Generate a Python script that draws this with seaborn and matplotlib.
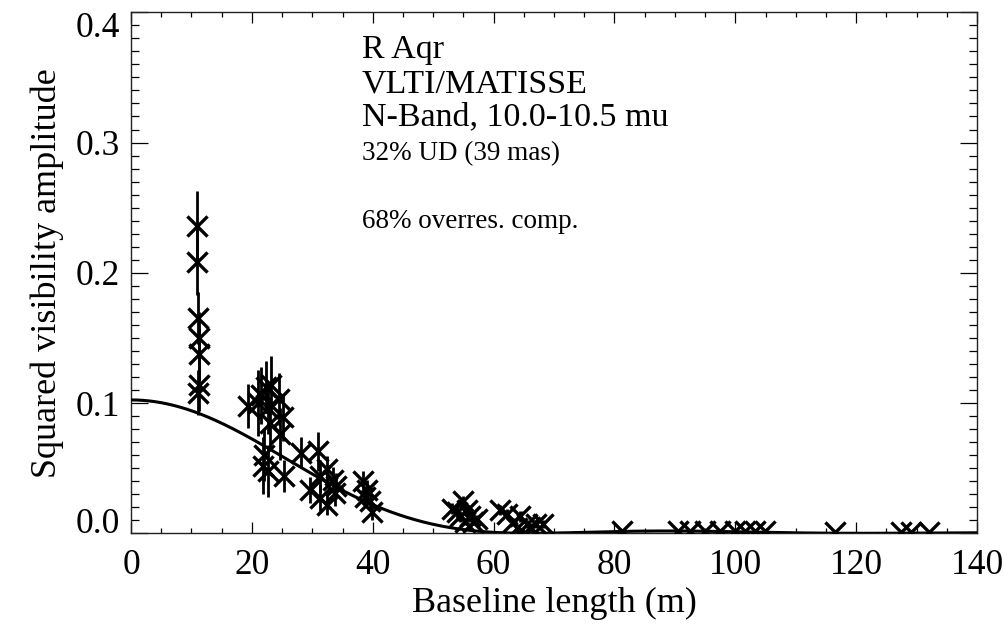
import numpy as np
import pandas as pd
import matplotlib
matplotlib.use("Agg")
import matplotlib.pyplot as plt
from matplotlib.ticker import MultipleLocator, FormatStrFormatter
import seaborn as sns

# Measured squared visibilities (baseline in m, V^2, 1-sigma error)
baseline_m = [
    10.9, 11.0, 11.1, 11.2, 11.2, 11.3, 11.1,
    19.4, 21.0, 21.5, 22.3, 23.2, 22.6, 24.5, 25.2, 24.6, 22.0, 21.8, 22.6, 25.3, 23.0,
    28.2, 31.0, 29.6, 31.3, 32.4, 33.5, 31.3, 32.4, 33.7, 34.0,
    38.4, 39.0, 39.6, 39.8, 38.8,
    53.1, 55.0, 55.6, 54.4, 56.1, 56.6, 55.3, 57.2, 54.0,
    61.1, 62.2, 64.4, 63.2, 65.5, 67.1, 68.2, 66.0, 63.8,
    81.2, 90.5, 92.5, 95.0, 97.5, 100.0, 101.6, 103.3, 104.9,
    116.5, 127.5, 129.0, 132.0,
]
vis2 = [
    0.236, 0.208, 0.165, 0.150, 0.138, 0.114, 0.108,
    0.098, 0.100, 0.106, 0.112, 0.114, 0.096, 0.103, 0.089, 0.076, 0.060, 0.052, 0.048, 0.044, 0.085,
    0.062, 0.063, 0.033, 0.044, 0.049, 0.041, 0.027, 0.022, 0.031, 0.036,
    0.040, 0.033, 0.025, 0.016, 0.028,
    0.019, 0.025, 0.018, 0.013, 0.013, 0.009, 0.009, 0.011, 0.016,
    0.018, 0.015, 0.013, 0.009, 0.007, 0.007, 0.007, 0.005, 0.004,
    0.002, 0.002, 0.002, 0.002, 0.002, 0.002, 0.002, 0.002, 0.002,
    0.001, 0.001, 0.001, 0.001,
]
vis2_err = [
    0.027, 0.025, 0.020, 0.020, 0.020, 0.020, 0.017,
    0.017, 0.025, 0.022, 0.020, 0.022, 0.020, 0.020, 0.018, 0.020, 0.020, 0.022, 0.020, 0.012, 0.020,
    0.012, 0.015, 0.010, 0.012, 0.010, 0.010, 0.010, 0.008, 0.010, 0.010,
    0.008, 0.008, 0.008, 0.006, 0.006,
    0.004, 0.004, 0.004, 0.004, 0.004, 0.003, 0.003, 0.003, 0.004,
    0.004, 0.004, 0.004, 0.003, 0.003, 0.003, 0.003, 0.003, 0.003,
    0.001, 0.001, 0.001, 0.001, 0.001, 0.001, 0.001, 0.001, 0.001,
    0.001, 0.001, 0.001, 0.001,
]

# Model: uniform disk fraction plus fully over-resolved component
ud_fraction = 0.32
ud_diameter_mas = 39.0
wavelength_um = 10.25

x_ticks = [0, 20, 40, 60, 80, 100, 120, 140]
y_ticks = [0.0, 0.1, 0.2, 0.3, 0.4]

info_lines = [
    ("R Aqr", 0.9123, 24.5),
    ("VLTI/MATISSE", 0.8470, 24.5),
    ("N-Band, 10.0-10.5 mu", 0.7837, 24.5),
    ("32% UD (39 mas)", 0.7165, 19.5),
    ("68% overres. comp.", 0.5860, 19.5),
]


def bessel_j1(x):
    tau = np.linspace(0.0, np.pi, 2001)
    integrand = np.cos(tau[None, :] - x[:, None] * np.sin(tau[None, :]))
    return np.trapezoid(integrand, tau, axis=1) / np.pi


b_grid = np.linspace(0.0, 140.0, 700)
theta_rad = ud_diameter_mas * 1e-3 / 206265.0
arg = np.pi * b_grid * theta_rad / (wavelength_um * 1e-6)
safe = np.where(arg == 0, 1.0, arg)
ud_vis = np.where(arg == 0, 1.0, 2.0 * bessel_j1(safe) / safe)
model_v2 = (ud_fraction * ud_vis) ** 2

obs = pd.DataFrame({"baseline": baseline_m, "v2": vis2, "err": vis2_err})
model = pd.DataFrame({"baseline": b_grid, "v2": model_v2})

sns.set_theme(style="ticks")
plt.rcParams["font.family"] = ["Liberation Serif", "DejaVu Serif"]

W, H = 1005, 626
fig = plt.figure(figsize=(W / 100, H / 100), dpi=100)
fig.patch.set_facecolor("white")
ax = fig.add_axes([131 / W, (H - 533.3) / H, 846 / W, 521 / H])
ax.set_facecolor("white")

ax.errorbar(obs["baseline"], obs["v2"], yerr=obs["err"], fmt="none",
            ecolor="black", elinewidth=2.0, capsize=0, zorder=2)
sns.scatterplot(data=obs, x="baseline", y="v2", marker="x", s=210,
                color="black", linewidth=2.4, ax=ax, zorder=3, legend=False)
sns.lineplot(data=model, x="baseline", y="v2", color="black",
             linewidth=2.2, ax=ax, zorder=4, legend=False)

ax.set_xlim(0, 140)
ax.set_ylim(0, 0.4)
ax.set_xticks(x_ticks)
ax.set_yticks(y_ticks)
ax.xaxis.set_minor_locator(MultipleLocator(5))
ax.yaxis.set_minor_locator(MultipleLocator(0.01))
ax.yaxis.set_major_formatter(FormatStrFormatter("%.1f"))

ax.tick_params(which="both", direction="in", top=True, right=True,
               colors="black", width=0.9, labelsize=25.5)
ax.tick_params(axis="y", which="major", length=12, pad=8)
ax.tick_params(axis="y", which="minor", length=6)
ax.tick_params(axis="x", which="major", length=7.6, pad=11)
ax.tick_params(axis="x", which="minor", length=3.8)
for side in ax.spines.values():
    side.set_linewidth(1.0)
    side.set_color("#222222")

ylabels = ax.get_yticklabels()
ylabels[0].set_verticalalignment("baseline")
ylabels[-1].set_verticalalignment("top")

ax.set_xlabel("Baseline length (m)", fontsize=26, labelpad=4, color="black")
ax.set_ylabel("Squared visibility amplitude", fontsize=26, labelpad=8, color="black")

for text, ypos, size in info_lines:
    ax.text(0.273, ypos, text, transform=ax.transAxes, fontsize=size,
            ha="left", va="baseline", color="black")

fig.savefig("out.png", dpi=100, facecolor="white")
